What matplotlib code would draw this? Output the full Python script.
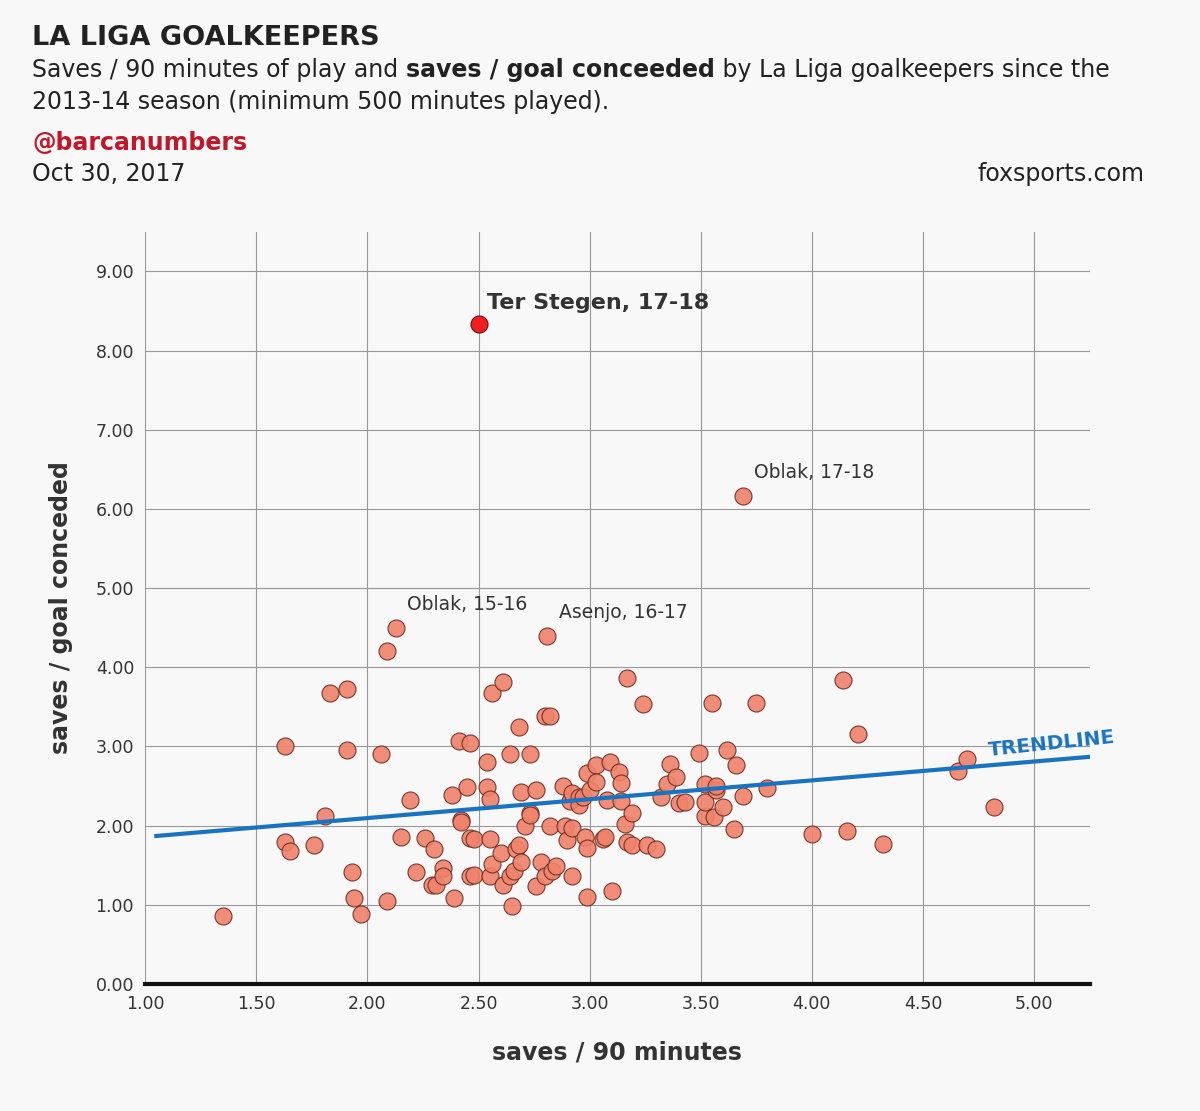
import matplotlib
matplotlib.use("Agg")
import matplotlib.pyplot as plt
import numpy as np

plt.rcParams['font.family'] = ['DejaVu Sans']

saves90 = [1.35,1.63,1.63,1.65,1.76,1.81,1.83,1.91,1.91,1.93,1.94,1.97,2.06,2.09,2.09,2.13,2.15,2.19,2.22,2.26,
           2.29,2.30,2.31,2.34,2.34,2.38,2.39,2.41,2.42,2.42,2.45,2.46,2.46,2.46,2.48,2.48,2.54,2.54,2.55,2.55,
           2.55,2.56,2.56,2.60,2.61,2.61,2.64,2.64,2.65,2.66,2.67,2.68,2.68,2.69,2.69,2.71,2.73,2.73,2.76,2.76,
           2.78,2.80,2.80,2.81,2.82,2.82,2.83,2.85,2.88,2.89,2.90,2.91,2.92,2.92,2.92,2.95,2.95,2.97,2.98,2.99,
           2.99,2.99,3.00,3.03,3.03,3.06,3.07,3.08,3.09,3.10,3.13,3.14,3.14,3.16,3.17,3.17,3.19,3.19,3.24,3.26,
           3.30,3.32,3.35,3.36,3.39,3.40,3.43,3.49,3.52,3.52,3.52,3.55,3.56,3.57,3.57,3.60,3.62,3.65,3.66,3.69,
           3.69,3.75,3.80,4.00,4.14,4.16,4.21,4.32,4.66,4.70,4.82,2.73]
saves_per_goal = [0.86,3.00,1.80,1.68,1.75,2.12,3.67,3.73,2.96,1.42,1.09,0.88,2.90,4.20,1.05,4.50,1.86,2.33,1.42,1.84,
           1.25,1.71,1.25,1.47,1.37,2.39,1.09,3.07,2.07,2.05,2.49,3.04,1.85,1.37,1.38,1.83,2.80,2.49,1.83,2.34,
           1.36,3.67,1.52,1.66,3.81,1.25,2.90,1.37,0.99,1.43,1.71,3.24,1.76,2.43,1.54,2.00,2.16,2.90,2.45,1.24,
           1.54,3.39,1.37,4.40,3.39,2.00,1.43,1.49,2.50,2.00,1.82,2.31,1.37,1.97,2.41,2.36,2.26,2.36,1.86,2.67,
           1.72,1.10,2.45,2.76,2.55,1.83,1.86,2.33,2.81,1.18,2.68,2.54,2.31,2.02,3.86,1.80,2.16,1.76,3.54,1.76,
           1.71,2.36,2.53,2.78,2.62,2.28,2.30,2.92,2.12,2.52,2.30,3.55,2.11,2.45,2.50,2.24,2.95,1.96,2.76,6.17,
           2.38,3.55,2.48,1.90,3.84,1.93,3.16,1.77,2.69,2.84,2.23,2.14]
ts_x, ts_y = [2.50], [8.33]
trend_x = [1.05, 5.25]
trend_slope, trend_intercept = 0.238, 1.62
annotations = [("Oblak, 17-18", 3.69, 6.17), ("Oblak, 15-16", 2.13, 4.50), ("Asenjo, 16-17", 2.81, 4.40)]
xticks = [1.0,1.5,2.0,2.5,3.0,3.5,4.0,4.5,5.0]
yticks = [0,1,2,3,4,5,6,7,8,9]

bg = '#f7f8f7'
fig = plt.figure(figsize=(12, 11.11), dpi=100, facecolor=bg)
ax = fig.add_axes([0.121, 0.1143, 0.787, 0.677], facecolor=bg)
ax.set_xlim(1.0, 5.25); ax.set_ylim(0, 9.5)
ax.set_xticks(xticks); ax.set_yticks(yticks)
ax.set_xticklabels([f"{v:.2f}" for v in xticks], fontsize=12.5, color='#333')
ax.set_yticklabels([f"{v:.2f}" for v in yticks], fontsize=12.5, color='#333')
ax.grid(True, color='#999', lw=0.8)
ax.set_axisbelow(True)
for s in ['top', 'right', 'left']:
    ax.spines[s].set_visible(False)
ax.spines['bottom'].set_linewidth(3); ax.spines['bottom'].set_color('#111')
ax.tick_params(length=0, pad=8)

ax.scatter(saves90, saves_per_goal, s=150, color='#f0826a', edgecolor='#6a2a20', lw=0.8, alpha=0.9, zorder=3)
ax.scatter(ts_x, ts_y, s=150, color='#f01e1e', edgecolor='#6a1010', lw=0.8, zorder=4)
tx = np.array(trend_x)
ax.plot(tx, trend_slope*tx + trend_intercept, color='#1a73c0', lw=3, zorder=5)
ax.text(4.79, 2.88, "TRENDLINE", color='#1a73c0', fontsize=14.5, fontweight='bold', rotation=6, zorder=5)
ax.text(2.54, 8.53, "Ter Stegen, 17-18", fontsize=16, fontweight='bold', color='#333')
for t, x, y in annotations:
    ax.text(x + 0.05, y + 0.22, t, fontsize=13.5, color='#333')
ax.set_xlabel("saves / 90 minutes", fontsize=17, fontweight='bold', color='#333', labelpad=20)
ax.set_ylabel("saves / goal conceded", fontsize=17, fontweight='bold', color='#333', labelpad=16)

fs = 17
fig.text(0.027, 0.966, "LA LIGA GOALKEEPERS", fontsize=19.5, fontweight='bold', color='#222', va='center')
t1 = fig.text(0.027, 0.937, "Saves / 90 minutes of play and ", fontsize=fs, color='#222', va='center')
fig.text(0.027, 0.908, "2013-14 season (minimum 500 minutes played).", fontsize=fs, color='#222', va='center')
fig.canvas.draw()
bb = t1.get_window_extent().transformed(fig.transFigure.inverted())
t2 = fig.text(bb.x1, 0.937, "saves / goal conceeded", fontsize=fs, fontweight='bold', color='#222', va='center')
fig.canvas.draw()
bb2 = t2.get_window_extent().transformed(fig.transFigure.inverted())
fig.text(bb2.x1, 0.937, " by La Liga goalkeepers since the", fontsize=fs, color='#222', va='center')
fig.text(0.027, 0.871, "@barcanumbers", fontsize=fs, fontweight='bold', color='#c0182a', va='center')
fig.text(0.027, 0.843, "Oct 30, 2017", fontsize=fs, color='#222', va='center')
fig.text(0.954, 0.843, "foxsports.com", fontsize=fs, color='#222', va='center', ha='right')

fig.savefig("out.png", dpi=100, facecolor=bg)
